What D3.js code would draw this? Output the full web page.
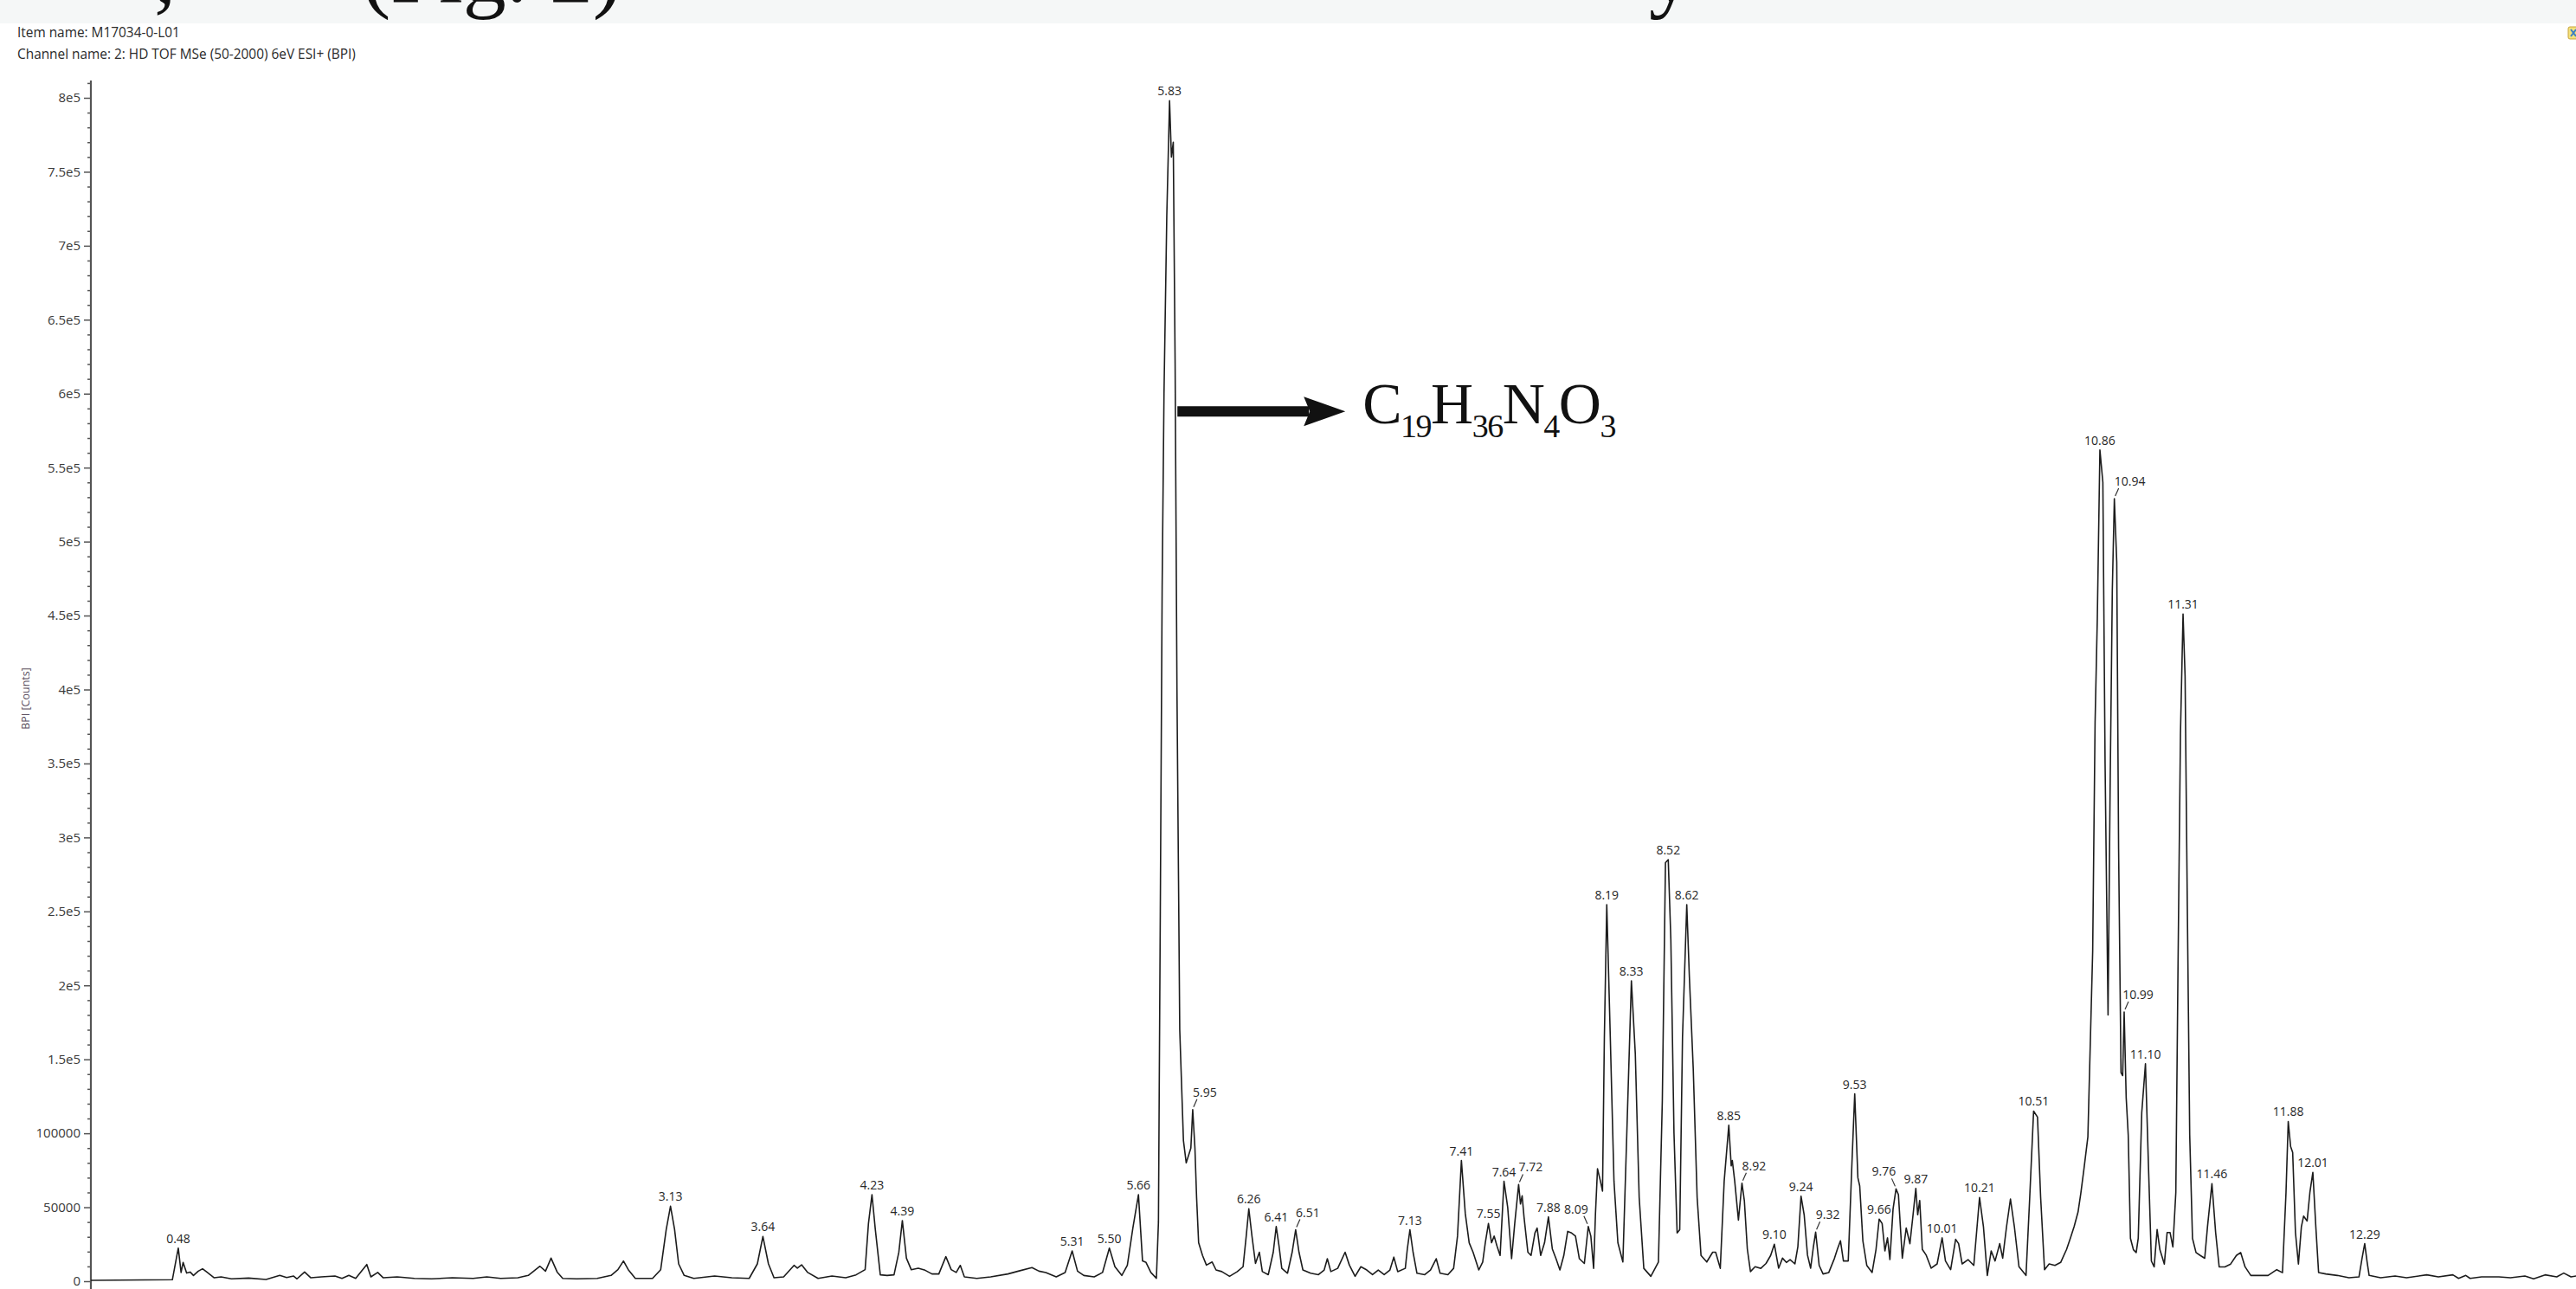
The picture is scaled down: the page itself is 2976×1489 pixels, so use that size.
<!DOCTYPE html>
<html lang="en">
<head>
<meta charset="utf-8">
<title>BPI chromatogram M17034-0-L01</title>
<script src="https://d3js.org/d3.v7.min.js"></script>
<style>
  body { margin: 0; background: #ffffff; }
  svg { display: block; }
  .yaxis .tick text { font-family: "Open Sans", sans-serif; font-size: 15px; fill: #3a3a3a; }
  .yaxis .tick line { stroke: #555; stroke-width: 1.5; }
</style>
</head>
<body>
<script>
// retention time (min)
var retentionTime = [
  0.00, 0.44, 0.472, 0.487, 0.498, 0.517, 0.536, 0.554, 0.580, 0.603, 0.629, 0.666, 0.703, 0.759, 0.852, 0.946,
  1.020, 1.057, 1.095, 1.113, 1.154, 1.188, 1.244, 1.318, 1.356, 1.393, 1.430, 1.490, 1.512, 1.549, 1.579, 1.654,
  1.747, 1.840, 1.952, 2.064, 2.138, 2.213, 2.306, 2.362, 2.425, 2.455, 2.485, 2.518, 2.548, 2.623, 2.734, 2.809,
  2.846, 2.876, 2.902, 2.940, 3.033, 3.077, 3.107, 3.130, 3.152, 3.174, 3.204, 3.256, 3.368, 3.461, 3.555, 3.599,
  3.629, 3.659, 3.689, 3.741, 3.797, 3.815, 3.838, 3.871, 3.927, 4.002, 4.076, 4.132, 4.181, 4.199, 4.218, 4.236,
  4.263, 4.300, 4.337, 4.363, 4.382, 4.404, 4.430, 4.468, 4.505, 4.542, 4.579, 4.617, 4.646, 4.673, 4.695, 4.717,
  4.784, 4.859, 4.952, 5.008, 5.082, 5.120, 5.157, 5.213, 5.261, 5.299, 5.328, 5.362, 5.418, 5.463, 5.500, 5.530,
  5.567, 5.597, 5.627, 5.657, 5.679, 5.698, 5.724, 5.754,
  5.765, 5.775, 5.785, 5.795, 5.810, 5.825, 5.835, 5.845, 5.855, 5.865, 5.880, 5.900, 5.915, 5.940, 5.950, 5.962,
  5.971, 5.982, 6.003, 6.024, 6.055, 6.076, 6.107, 6.149, 6.191, 6.222, 6.239, 6.253, 6.270, 6.289, 6.310, 6.326,
  6.358, 6.385, 6.401, 6.416, 6.431, 6.462, 6.487, 6.506, 6.524, 6.545, 6.587, 6.629, 6.660, 6.677, 6.696, 6.733,
  6.773, 6.796, 6.827, 6.858, 6.890, 6.921, 6.952, 6.984, 7.015, 7.036, 7.057, 7.098, 7.109, 7.123, 7.140, 7.161,
  7.203, 7.234, 7.265, 7.286, 7.328, 7.359, 7.380, 7.401, 7.422, 7.443, 7.464, 7.495, 7.516, 7.530, 7.547, 7.564,
  7.578, 7.593, 7.610, 7.631, 7.651, 7.672, 7.689, 7.710, 7.720, 7.729, 7.739, 7.760, 7.777, 7.798, 7.810, 7.829,
  7.850, 7.871, 7.892, 7.912, 7.933, 7.954, 7.975, 7.996, 8.017, 8.038, 8.065, 8.086, 8.100, 8.115, 8.125, 8.136,
  8.152, 8.163, 8.173, 8.186, 8.205, 8.225, 8.246, 8.273, 8.294, 8.319, 8.340, 8.361, 8.386, 8.424, 8.465, 8.486,
  8.503, 8.518, 8.532, 8.549, 8.566, 8.580, 8.595, 8.618, 8.632, 8.653, 8.674, 8.695, 8.726, 8.758, 8.774, 8.799,
  8.820, 8.845, 8.858, 8.864, 8.877, 8.897, 8.916, 8.929, 8.945, 8.962, 8.987, 9.018, 9.046, 9.071, 9.091,
  9.114, 9.135, 9.156, 9.176, 9.202, 9.218, 9.235, 9.252, 9.270, 9.287, 9.302, 9.314, 9.333, 9.354, 9.385, 9.416,
  9.431, 9.448, 9.464, 9.490, 9.510, 9.525, 9.542, 9.552, 9.569, 9.590, 9.619, 9.640, 9.657, 9.673, 9.688, 9.702,
  9.715, 9.732, 9.748, 9.761, 9.782, 9.803, 9.823, 9.840, 9.855, 9.865, 9.876, 9.890, 9.911, 9.938, 9.970, 9.997,
  10.015, 10.043, 10.070, 10.086, 10.105, 10.137, 10.168, 10.199, 10.220, 10.241, 10.262, 10.283, 10.308, 10.324, 10.345, 10.366,
  10.387, 10.412, 10.450, 10.470, 10.491, 10.512, 10.529, 10.550, 10.575, 10.606, 10.637, 10.669, 10.690, 10.710, 10.731, 10.746,
  10.763, 10.784,
  10.810, 10.823, 10.835, 10.849, 10.865, 10.877, 10.893, 10.904, 10.916, 10.927, 10.940, 10.950, 10.963, 10.972, 10.980, 10.991,
  11.002, 11.014, 11.030, 11.045, 11.056, 11.075, 11.095, 11.111, 11.127, 11.142, 11.158, 11.173, 11.197, 11.212, 11.228, 11.243,
  11.259, 11.271, 11.284, 11.298, 11.309, 11.321, 11.334, 11.349, 11.368, 11.391, 11.415, 11.430, 11.454, 11.474, 11.493, 11.524,
  11.555, 11.586, 11.609, 11.633, 11.664, 11.711, 11.757, 11.804, 11.835, 11.854, 11.866, 11.879, 11.890, 11.905, 11.921, 11.937,
  11.949, 11.968, 11.983, 11.999, 12.015, 12.030,
  12.069, 12.131, 12.194, 12.248, 12.264, 12.279, 12.292, 12.303, 12.365, 12.443, 12.505, 12.614, 12.677, 12.755, 12.786, 12.825,
  12.848, 12.910, 13.004, 13.066, 13.144, 13.191, 13.253, 13.316, 13.354, 13.393, 13.421
];

// base peak intensity (counts) at each retention time
var intensity = [
  600, 1000, 22400, 5900, 12700, 5500, 6200, 3900, 6800, 8400, 5900, 2300, 2900, 1600, 2100, 1200,
  3900, 2500, 3500, 1600, 6200, 2300, 2900, 3500, 1900, 3900, 1900, 11300, 2900, 5900, 2300, 2900,
  1900, 1600, 2300, 1900, 2900, 1900, 2300, 3900, 10100, 6800, 15600, 6200, 1900, 1600, 1900, 3900,
  7800, 13700, 7800, 1900, 1900, 7800, 35000, 50700, 35000, 11700, 3900, 1900, 3500, 2300, 1900, 11700,
  30200, 11700, 2300, 2900, 10700, 8800, 11100, 5900, 1900, 3500, 2300, 4300, 7800, 39000, 58500, 35000,
  4300, 3900, 4300, 19500, 41000, 15600, 7800, 8800, 7400, 4900, 4900, 16600, 7800, 5900, 10700, 2900,
  1900, 2900, 4900, 6800, 9200, 6800, 5900, 2900, 5900, 20500, 6800, 3900, 2900, 5900, 22400, 9800,
  3900, 10700, 36000, 58500, 13700, 12700, 5900, 2000,
  40000, 250000, 470000, 600000, 720000, 798000, 760000, 770000, 620000, 400000, 170000, 95000, 80000, 90000, 116000, 90000,
  56600, 26000, 17400, 10900, 13000, 7600, 6500, 3300, 6500, 9800, 30500, 49000, 30500, 12000, 19600, 6500,
  4400, 19600, 37000, 23900, 8700, 5400, 19600, 34800, 19600, 7600, 5400, 4400, 7600, 15200, 6500, 8700,
  19600, 10900, 3300, 9800, 7600, 4400, 7600, 4400, 7600, 16300, 6500, 8700, 21800, 34800, 19600, 5400,
  4400, 7600, 15200, 5400, 4400, 8700, 30500, 81600, 45700, 26000, 19600, 7600, 13000, 26000, 39000, 26000,
  30500, 23900, 17400, 67500, 50000, 15200, 39000, 65300, 52200, 57700, 43500, 19600, 17400, 32600, 35900, 17400,
  26000, 43500, 21800, 15200, 7600, 17400, 33700, 32600, 30500, 15200, 12000, 37000, 30500, 8700, 45700, 76000,
  67500, 60900, 165000, 254600, 165000, 67500, 26000, 13000, 99000, 203000, 154000, 56600, 8700, 3300, 13000, 122000,
  283000, 285000, 231000, 100000, 32600, 34800, 165000, 254600, 206000, 143600, 56600, 17400, 13000, 19600, 19600, 8700,
  67500, 105500, 78000, 81600, 67500, 41300, 66300, 54400, 21800, 6500, 9800, 8700, 12000, 17400, 25000,
  8800, 15600, 12700, 14600, 11700, 23400, 57500, 44900, 17600, 8800, 23400, 33200, 10700, 4900, 5900, 15600,
  21500, 27300, 13700, 13700, 80000, 126700, 70000, 64400, 27300, 10700, 5900, 21500, 42000, 39000, 20500, 29300,
  14600, 48800, 62400, 58500, 15600, 36000, 25400, 44900, 62800, 44900, 54600, 21500, 17600, 8800, 11700, 29300,
  13700, 7800, 28300, 25400, 11700, 14600, 10700, 56600, 37000, 3900, 20500, 13700, 25400, 15600, 37000, 55600,
  37000, 9800, 3900, 56600, 115000, 111000, 56600, 7800, 11700, 10700, 12700, 21500, 29300, 37000, 46800, 59500,
  76000, 97500,
  223000, 378000, 448000, 562000, 540000, 350000, 180000, 331000, 467000, 529000, 486000, 292000, 141000, 139000, 182000, 124000,
  98800, 29000, 21300, 19400, 29000, 114000, 147000, 79000, 13600, 9700, 34900, 21300, 11600, 32900, 32900, 23200,
  60000, 215000, 370000, 451000, 409000, 254000, 98800, 29000, 19400, 17400, 15500, 36800, 66000, 32900, 9700, 9700,
  11600, 17400, 19400, 9700, 3900, 3900, 3900, 7800, 5800, 60000, 108000, 91000, 87000, 32900, 11600, 36800,
  44000, 40700, 60000, 73600, 36800, 5900,
  4900, 3900, 2300, 2900, 15000, 25400, 13000, 3900, 2300, 3500, 2300, 4300, 2900, 4300, 1900, 3900,
  1900, 2900, 2900, 2300, 3500, 1600, 4300, 2900, 5500, 2900, 3500
];

// labelled peaks (retention time labels printed by the software)
var peakLabels = ["0.48", "3.13", "3.64", "4.23", "4.39", "5.31", "5.50", "5.66", "5.83", "5.95",
  "6.26", "6.41", "6.51", "7.13", "7.41", "7.55", "7.64", "7.72", "7.88", "8.09", "8.19", "8.33",
  "8.52", "8.62", "8.85", "8.92", "9.10", "9.24", "9.32", "9.53", "9.66", "9.76", "9.87", "10.01",
  "10.21", "10.51", "10.86", "10.94", "10.99", "11.10", "11.31", "11.46", "11.88", "12.01", "12.29"];

// y axis ticks
var yMajorTicks = d3.range(0, 800001, 50000);
var yMinorTicks = d3.range(0, 810001, 10000).filter(function(v) { return v % 50000 !== 0; });

var W = 2976, H = 1489;

var svg = d3.select("body").append("svg")
    .attr("width", W)
    .attr("height", H);

// strip of the page above the chart
svg.append("rect").attr("x", 0).attr("y", 0).attr("width", W).attr("height", 27).attr("fill", "#f5f7f7");
var pageText = svg.append("g")
    .style("font-family", "'Liberation Serif', serif")
    .style("font-size", "100px")
    .attr("fill", "#111");
pageText.append("text").attr("x", 178).attr("y", 2).text(",");
pageText.append("text").attr("x", 418).attr("y", 2).text("(Fig. 2)");
pageText.append("text").attr("x", 1905).attr("y", 2).text("y");

// header
var header = svg.append("g")
    .style("font-family", "'Open Sans', sans-serif")
    .style("font-size", "15.4px")
    .attr("fill", "#2a2a2a");
header.append("text").attr("x", 20).attr("y", 43).text("Item name: M17034-0-L01");
header.append("text").attr("x", 20).attr("y", 68).text("Channel name: 2: HD TOF MSe (50-2000) 6eV ESI+ (BPI)");

// little toolbar icon cut by the right edge
svg.append("rect").attr("x", 2967).attr("y", 31).attr("width", 14).attr("height", 14)
    .attr("rx", 2).attr("fill", "#f4e27c").attr("stroke", "#c9a43c");
svg.append("path").attr("d", "M2970,34 L2976,42 M2976,34 L2970,42")
    .attr("stroke", "#3b7fc4").attr("stroke-width", 2);

// scales
var xScale = d3.scaleLinear().domain([0, 13.42]).range([105, W]);
var yScale = d3.scaleLinear().domain([0, 800000]).range([1480, 113]);

// y axis
svg.append("line")
    .attr("x1", 105).attr("x2", 105)
    .attr("y1", 93).attr("y2", H)
    .attr("stroke", "#555").attr("stroke-width", 2.2);

var yMinor = d3.axisLeft(yScale).tickValues(yMinorTicks).tickSize(4).tickFormat("");
svg.append("g").attr("class", "yaxis").attr("transform", "translate(105,0)").call(yMinor)
    .call(function(g) { g.select(".domain").remove(); });

var yMajor = d3.axisLeft(yScale)
    .tickValues(yMajorTicks)
    .tickSize(8)
    .tickPadding(4)
    .tickFormat(function(v) {
      if (v >= 150000) return (v / 100000) + "e5";
      return String(v);
    });
svg.append("g").attr("class", "yaxis").attr("transform", "translate(105,0)").call(yMajor)
    .call(function(g) { g.select(".domain").remove(); });

svg.append("text")
    .attr("transform", "translate(34,807) rotate(-90)")
    .attr("text-anchor", "middle")
    .style("font-family", "'Open Sans', sans-serif")
    .style("font-size", "12.5px")
    .attr("fill", "#5c5060")
    .text("BPI [Counts]");

// the trace
var points = retentionTime.map(function(t, i) { return [t, intensity[i]]; });

var line = d3.line()
    .x(function(d) { return xScale(d[0]); })
    .y(function(d) { return yScale(d[1]); });

svg.append("path")
    .datum(points)
    .attr("d", line)
    .attr("fill", "none")
    .attr("stroke", "#1c1c1c")
    .attr("stroke-width", 1.6)
    .attr("stroke-linejoin", "round");

// peak labels, some pushed aside with a small leader line
var leaderShift = {"5.95": 14, "6.51": 14, "7.72": 14, "8.09": -14, "8.92": 14,
                   "9.32": 14, "9.76": -14, "10.94": 18, "10.99": 16};

var labels = svg.append("g")
    .style("font-family", "'Open Sans', sans-serif")
    .style("font-size", "14px")
    .attr("fill", "#262626");

peakLabels.forEach(function(lab) {
  var t = parseFloat(lab);
  var apex = null;
  points.forEach(function(p) {
    if (Math.abs(p[0] - t) <= 0.02 && (apex === null || p[1] > apex[1])) apex = p;
  });
  var ax = xScale(apex[0]), ay = yScale(apex[1]);
  var shift = leaderShift[lab] || 0;
  if (shift) {
    var s = shift > 0 ? 1 : -1;
    labels.append("line")
        .attr("x1", ax + s * 1).attr("y1", ay - 3)
        .attr("x2", ax + s * 5).attr("y2", ay - 12)
        .attr("stroke", "#333").attr("stroke-width", 1.2);
    labels.append("text").attr("x", ax + shift).attr("y", ay - 15)
        .attr("text-anchor", "middle").text(lab);
  } else {
    labels.append("text").attr("x", ax).attr("y", ay - 6)
        .attr("text-anchor", "middle").text(lab);
  }
});

// annotation of the main peak
var ann = svg.append("g");
var arrowY = yScale(588000);
var arrowX0 = xScale(5.83) + 8;
ann.append("rect")
    .attr("x", arrowX0).attr("y", arrowY - 6)
    .attr("width", 152).attr("height", 12)
    .attr("fill", "#111");
ann.append("path")
    .attr("d", "M" + (arrowX0 + 146) + "," + (arrowY - 17) +
               " L" + (arrowX0 + 194) + "," + arrowY +
               " L" + (arrowX0 + 146) + "," + (arrowY + 17) +
               " L" + (arrowX0 + 153) + "," + arrowY + " Z")
    .attr("fill", "#111");

var formula = ann.append("text")
    .attr("x", arrowX0 + 214).attr("y", arrowY + 14)
    .style("font-family", "'Liberation Serif', 'Times New Roman', serif")
    .style("font-size", "68px")
    .style("letter-spacing", "-1.5px")
    .attr("fill", "#111");
[["C", "19"], ["H", "36"], ["N", "4"], ["O", "3"]].forEach(function(part, i) {
  formula.append("tspan").attr("dy", i === 0 ? 0 : -16).text(part[0]);
  formula.append("tspan").attr("dy", 16).style("font-size", "38px").text(part[1]);
});
</script>
</body>
</html>
